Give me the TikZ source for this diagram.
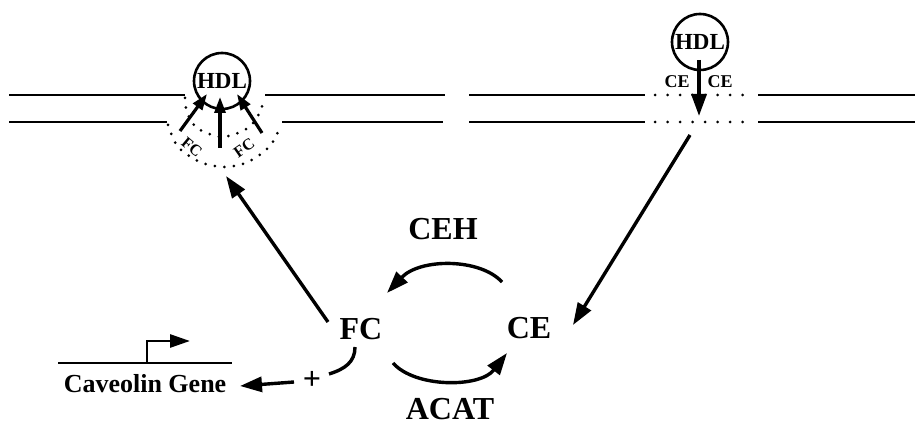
\documentclass[tikz,border=0pt]{standalone}
\usepackage{fontspec}
\setmainfont{Liberation Serif}
\usetikzlibrary{arrows.meta}
\tikzset{
  memb/.style={line width=2.8pt},
  dotmemb/.style={line width=3pt,line cap=round,dash pattern=on 0pt off 12.5pt},
  pit/.style={line width=3pt,line cap=round,dash pattern=on 0pt off 9.5pt},
  hdlc/.style={circle,draw,line width=2.6pt,minimum size=56pt,inner sep=0pt,font=\fontsize{23}{23}\selectfont\bfseries},
  arr/.style={line width=3.4pt,-{Triangle[length=22pt,width=15pt]}},
  smallarr/.style={line width=3.2pt,-{Triangle[length=16pt,width=11pt]}},
  curveline/.style={line width=3.4pt},
  lab/.style={font=\fontsize{32}{32}\selectfont\bfseries,inner sep=0pt},
  slab/.style={font=\fontsize{18}{18}\selectfont\bfseries,inner sep=0pt},
  fclab/.style={font=\fontsize{16}{16}\selectfont\bfseries,inner sep=0pt},
  glab/.style={font=\fontsize{26}{26}\selectfont\bfseries,inner sep=0pt}
}
\begin{document}
\begin{tikzpicture}[x=1pt,y=-1pt]
  \useasboundingbox (0,0) rectangle (923,427);
  % plasma membrane
  \draw[memb] (9,95) -- (185,95) (265,95) -- (445,95) (469,95) -- (645,95) (758,95) -- (915,95);
  \draw[memb] (9,122) -- (167,122) (282,122) -- (443,122) (469,122) -- (645,122) (758,122) -- (915,122);
  \draw[dotmemb] (655,95) -- (750,95) (655,122) -- (750,122);
  % caveola
  \draw[pit] plot[smooth] coordinates {(185,98) (187,112) (197,128) (222,137) (248,128) (260,112) (264,98)};
  \draw[pit] plot[smooth] coordinates {(168,125) (178,147) (200,162) (224,167) (248,162) (270,146) (281,125)};

  \node[hdlc] (hdlL) at (222,81) {HDL};
  \node[hdlc] (hdlR) at (700,42) {HDL};
  \node[slab] (ceL) at (677,82) {CE};
  \node[slab] (ceR) at (720,82) {CE};
  \node[fclab,rotate=-40] (fcL) at (192,147) {FC};
  \node[fclab,rotate=35] (fcR) at (244,148) {FC};

  \node[lab] (FC) at (361,329) {FC};
  \node[lab] (CE) at (529,328) {CE};
  \node[lab] (CEH) at (443,229) {CEH};
  \node[lab] (ACAT) at (450,409) {ACAT};
  \node[glab] (gene) at (145,384) {Caveolin Gene};
  \node[font=\fontsize{32}{32}\selectfont\bfseries,inner sep=0pt] (plus) at (312,380) {+};

  % efflux into HDL
  \coordinate (t1) at (180,131);
  \coordinate (h1) at (207,94);
  \coordinate (t2) at (220,148);
  \coordinate (h2) at (220,97);
  \coordinate (t3) at (262,133);
  \coordinate (h3) at (237,94);
  \draw[smallarr] (t1) -- (h1);
  \draw[smallarr] (t2) -- (h2);
  \draw[smallarr] (t3) -- (h3);

  % selective uptake
  \coordinate (ceIn) at (699,60);
  \coordinate (ceOut) at (699,116);
  \draw[arr] (ceIn) -- (ceOut);
  \coordinate (memR) at (690,135);
  \coordinate (ceTip) at (573,325);
  \draw[arr] (memR) -- (ceTip);

  % FC to caveola
  \coordinate (fcOut) at (328,322);
  \coordinate (pitB) at (226,176);
  \draw[arr] (fcOut) -- (pitB);

  % CEH and ACAT cycle
  \coordinate (ceh1) at (502,282);
  \coordinate (ceh2) at (387,293);
  \draw[arr] (ceh1) .. controls (480,258) and (420,258) .. (ceh2);
  \coordinate (acat1) at (393,363);
  \coordinate (acat2) at (507,353);
  \draw[arr] (acat1) .. controls (415,388) and (480,388) .. (acat2);

  % caveolin gene
  \coordinate (fcDn) at (355,347);
  \coordinate (fcPl) at (329,374);
  \draw[curveline] (fcDn) .. controls (355,362) and (345,369) .. (fcPl);
  \coordinate (plA) at (294,382);
  \coordinate (geneR) at (240,386);
  \draw[arr] (plA) -- (geneR);
  \coordinate (gL) at (58,363);
  \coordinate (gR) at (232,363);
  \coordinate (tss) at (147,363);
  \coordinate (prom) at (190,341);
  \draw[memb] (gL) -- (gR);
  \draw[memb,-{Triangle[length=20pt,width=13pt]}] (tss) |- (prom);
\end{tikzpicture}
\end{document}
